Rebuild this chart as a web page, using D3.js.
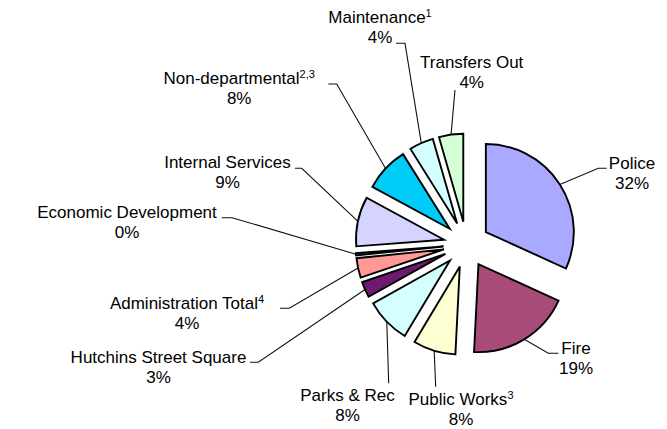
<!DOCTYPE html>
<html>
<head>
<meta charset="utf-8">
<script src="https://cdn.jsdelivr.net/npm/d3@7"></script>
<style>
  html, body { margin: 0; padding: 0; background: #fff; }
  svg { display: block; }
  text { font-family: "Liberation Sans", Arial, sans-serif; font-size: 17px; fill: #000; }
</style>
</head>
<body>
<svg id="chart" width="667" height="429"></svg>
<script>
// General fund expenditures by department (share of total, %)
const categories = ["Police", "Fire", "Public Works", "Parks & Rec", "Hutchins Street Square",
  "Administration Total", "Economic Development", "Internal Services", "Non-departmental",
  "Maintenance", "Transfers Out"];
const footnotes = ["", "", "3", "", "", "4", "", "", "2,3", "1", ""];
const shares = [31.8, 19.0, 7.8, 8.3, 2.9, 3.6, 0.4, 9.1, 8.2, 4.45, 4.45];
const colors = ["#a9a9ff", "#a84b78", "#ffffd4", "#d4ffff", "#6d1a70", "#ff9a96",
  "#0068c4", "#d4d4ff", "#00ccf8", "#d4ffff", "#d4ffd4"];

// Label placement: text centre / first baseline, and leader points near the label
const labelLayout = [
  { x: 632,   y: 169.3, leader: [[606.7, 168.3], [598.3, 168.3]] },
  { x: 576,   y: 354.3, leader: [[558.3, 353.3], [548.3, 353.3]] },
  { x: 461,   y: 405,   leader: [[435.7, 386.7]] },
  { x: 347.5, y: 401,   leader: [[388.7, 383.3]] },
  { x: 158.5, y: 362.7, leader: [[250, 362.3], [258.3, 362.3]] },
  { x: 187,   y: 309,   leader: [[280, 308.3], [289.3, 308.3]] },
  { x: 127,   y: 218.3, leader: [[221.7, 217.7], [232, 217.7]] },
  { x: 227.5, y: 168.3, leader: [[295, 168.3], [301.7, 168.3]] },
  { x: 239.2, y: 84,    leader: [[328.3, 84], [336.7, 84]] },
  { x: 380,   y: 23.3,  leader: [[396, 43.3], [405, 43.3]] },
  { x: 471.7, y: 68.3,  leader: [[455, 90]] }
];

const cx = 466.5, cy = 244.5;
const radius = 88;
const explode = 23;
const lineGap = 19.8;

const data = categories.map((c, i) => ({ name: c, note: footnotes[i], value: shares[i], color: colors[i], layout: labelLayout[i] }));
const total = d3.sum(shares);

const svg = d3.select("#chart");
const pie = d3.pie().sort(null).value(d => d.value);
const arc = d3.arc().innerRadius(0).outerRadius(radius);
const arcs = pie(data);

const mid = a => (a.startAngle + a.endAngle) / 2;

// Leader lines from each label to the middle of its slice's outer edge
const leaderLine = d3.line();
svg.append("g")
  .selectAll("path")
  .data(arcs)
  .join("path")
  .attr("d", a => {
    const m = mid(a);
    const end = [cx + Math.sin(m) * (radius + explode), cy - Math.cos(m) * (radius + explode)];
    return leaderLine([...a.data.layout.leader, end]);
  })
  .attr("fill", "none")
  .attr("stroke", "#111")
  .attr("stroke-width", 1.1);

// Exploded slices
svg.append("g")
  .attr("transform", `translate(${cx},${cy})`)
  .selectAll("path")
  .data(arcs)
  .join("path")
  .attr("transform", a => {
    const m = mid(a);
    return `translate(${Math.sin(m) * explode},${-Math.cos(m) * explode})`;
  })
  .attr("d", arc)
  .attr("fill", a => a.data.color)
  .attr("stroke", "#000")
  .attr("stroke-width", 1.9)
  .attr("stroke-linejoin", "miter");

// Two-line labels: name (with footnote marker) and percentage
const labels = svg.append("g")
  .selectAll("g")
  .data(arcs)
  .join("g");

const first = labels.append("text")
  .attr("x", a => a.data.layout.x)
  .attr("y", a => a.data.layout.y)
  .attr("text-anchor", "middle");
first.append("tspan").text(a => a.data.name);
first.filter(a => a.data.note)
  .append("tspan")
  .attr("dy", -6)
  .style("font-size", "11px")
  .text(a => a.data.note);

labels.append("text")
  .attr("x", a => a.data.layout.x)
  .attr("y", a => a.data.layout.y + lineGap)
  .attr("text-anchor", "middle")
  .text(a => Math.round(a.data.value / total * 100) + "%");
</script>
</body>
</html>
